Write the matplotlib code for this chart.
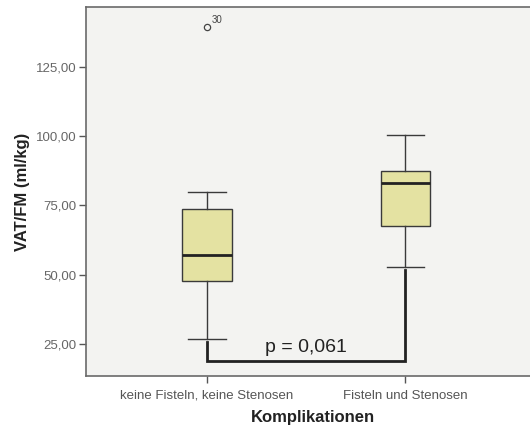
import matplotlib
matplotlib.use("Agg")
import matplotlib.pyplot as plt

plt.rcParams['font.family'] = ['Liberation Sans', 'DejaVu Sans']

categories = ["keine Fisteln, keine Stenosen", "Fisteln und Stenosen"]
whisker_low = [26.9, 52.9]
q1 = [47.7, 67.7]
median = [57.0, 83.0]
q3 = [73.8, 87.5]
whisker_high = [80.0, 100.4]
outliers = [[139.3], []]
outlier_ids = [["30"], []]
yticks = [25, 50, 75, 100, 125]
p_text = "p = 0,061"
bracket_y = 18.9

fig = plt.figure(figsize=(5.30, 4.29), dpi=100)
ax = fig.add_axes([86 / 530, 53 / 429, 1.02 - 86 / 530, 369 / 429])
ax.set_facecolor('#f3f3f1')

stats = []
for i in range(len(categories)):
    stats.append(dict(whislo=whisker_low[i], q1=q1[i], med=median[i],
                      q3=q3[i], whishi=whisker_high[i], fliers=outliers[i]))

positions = [1, 2]
ax.bxp(stats, positions=positions, widths=0.25, patch_artist=True,
       boxprops=dict(facecolor='#e4e2a2', edgecolor='#3a3a3a', linewidth=1.0),
       medianprops=dict(color='#222222', linewidth=2.0),
       whiskerprops=dict(color='#3a3a3a', linewidth=1.0),
       capprops=dict(color='#3a3a3a', linewidth=1.0),
       capwidths=0.19,
       flierprops=dict(marker='o', markerfacecolor='none', markeredgecolor='#444444',
                       markersize=4.5, markeredgewidth=0.9))

for pos, vals, ids in zip(positions, outliers, outlier_ids):
    for v, lab in zip(vals, ids):
        ax.annotate(lab, (pos, v), xytext=(3.5, 3), textcoords='offset points',
                    fontsize=7, color='#444444')

# significance bracket
ax.plot([1, 1, 2, 2], [25.6, bracket_y, bracket_y, 51.8], color='#222222',
        linewidth=2.0, solid_joinstyle='miter')
ax.text(1.5, bracket_y + 1.8, p_text, ha='center', va='bottom', fontsize=14,
        color='#222222')

ax.set_xlim(0.392, 2.68)
ax.set_ylim(13.4, 146.7)
ax.set_xticks(positions)
ax.set_xticklabels(categories, fontsize=9.5, color='#555555')
ax.set_yticks(yticks)
ax.set_yticklabels([f"{v:.2f}".replace('.', ',') for v in yticks], fontsize=9.5,
                   color='#666666')
ax.tick_params(axis='both', direction='out', length=5, color='#555555', width=1.0)
ax.tick_params(axis='x', pad=5)
ax.tick_params(axis='y', pad=2)

for side in ['left', 'bottom', 'top']:
    ax.spines[side].set_color('#6a6a6a')
    ax.spines[side].set_linewidth(1.2)
ax.spines['right'].set_visible(False)

ax.set_xlabel("Komplikationen", fontsize=12, fontweight='bold', color='#222222', labelpad=6)
ax.set_ylabel("VAT/FM (ml/kg)", fontsize=12, fontweight='bold', color='#222222', labelpad=4)

fig.savefig("out.png", dpi=100, facecolor='white')
